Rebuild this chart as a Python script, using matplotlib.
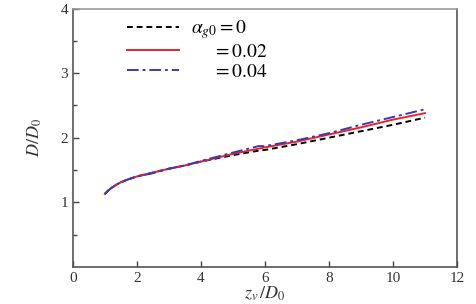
import numpy as np
import matplotlib
matplotlib.use("Agg")
from matplotlib import pyplot as plt

# data
z = [1.0, 1.1, 1.2, 1.35, 1.5, 1.7, 2.0, 2.5, 3.0, 3.5, 4.0, 5.0, 5.8, 6.0, 7.0, 8.0, 9.0, 10.0, 11.0]
d_0 = [1.13, 1.18, 1.22, 1.27, 1.31, 1.35, 1.40, 1.46, 1.52, 1.57, 1.63, 1.73, 1.80, 1.81, 1.90, 2.00, 2.10, 2.20, 2.31]
d_002 = [1.13, 1.18, 1.22, 1.27, 1.31, 1.35, 1.40, 1.46, 1.52, 1.57, 1.63, 1.75, 1.83, 1.85, 1.94, 2.05, 2.16, 2.28, 2.38]
d_004 = [1.13, 1.18, 1.22, 1.27, 1.31, 1.35, 1.40, 1.45, 1.52, 1.57, 1.64, 1.77, 1.87, 1.87, 1.96, 2.07, 2.20, 2.32, 2.44]
labels = [r'$\alpha_{g0}=0$', r'$\quad\;\;=0.02$', r'$\quad\;\;=0.04$']
xticks = [0, 2, 4, 6, 8, 10, 12]
yticks = [1, 2, 3, 4]

plt.rcParams['font.family'] = 'Liberation Serif'
plt.rcParams['mathtext.fontset'] = 'stix'

fig = plt.figure(figsize=(4.76, 3.04), dpi=100)
ax = fig.add_axes([0.153, 0.122, 0.807, 0.850])

ax.plot(z, d_0, color='black', ls=(0, (3, 2)), lw=1.4, label=labels[0])
ax.plot(z, d_002, color='#e8232a', ls='-', lw=1.4, label=labels[1])
ax.plot(z, d_004, color='#3a3ab8', ls=(0, (6, 2, 1.5, 2)), lw=1.4, label=labels[2])

ax.set_xlim(0, 12)
ax.set_ylim(0, 4)
ax.set_xticks(xticks)
ax.set_yticks(yticks)
ax.set_yticks([0.5, 1.5, 2.5, 3.5], minor=True)
ax.tick_params(direction='in', length=4, width=1, colors='#444444', labelsize=11, labelcolor='#333333')
ax.tick_params(which='minor', direction='in', length=3, width=1, colors='#444444')
for s in ax.spines.values():
    s.set_color('#555555')
    s.set_linewidth(1.2)
ax.spines['top'].set_color('#999999')

ax.set_xlabel(r'$z_v\,/D_0$', fontsize=13, color='#333333', labelpad=0)
ax.set_ylabel(r'$D/D_0$', fontsize=13, color='#333333', labelpad=12)

leg = ax.legend(loc='upper left', bbox_to_anchor=(0.095, 1.03), frameon=False,
                handlelength=2.7, handletextpad=0.6, labelspacing=0.12, fontsize=14)

fig.savefig("out.png", dpi=100)
